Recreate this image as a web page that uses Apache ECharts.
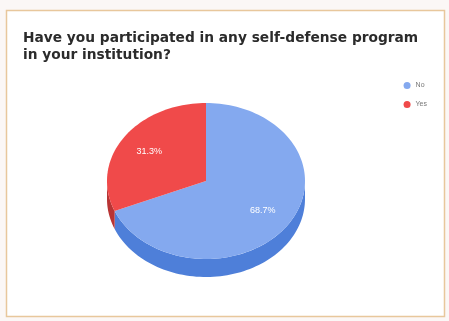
<!DOCTYPE html>
<html>
<head>
<meta charset="utf-8">
<script src="https://cdn.jsdelivr.net/npm/echarts@6/dist/echarts.min.js"></script>
<style>
  html, body { margin: 0; padding: 0; background: #fbf7f6; }
  #chart { width: 449px; height: 321px; }
</style>
</head>
<body>
<div id="chart"></div>
<script>
// Survey answers
const categories = ['No', 'Yes'];
const values = [68.7, 31.3];
const topColors = ['#84a9ef', '#f04a4a'];
const sideColors = ['#4e7fd9', '#b83434'];
const titleText = 'Have you participated in any self-defense program\nin your institution?';

const total = values.reduce((a, b) => a + b, 0);
const starts = [];
let acc = 0;
values.forEach(v => { starts.push(acc / total * 360); acc += v; });

// Tilted pie geometry (pixels)
const CX = 206, CY = 181, RX = 99, RY = 78, DEPTH = 18;

function pt(deg, dy) {
  const r = deg * Math.PI / 180;
  return [CX + RX * Math.sin(r), CY - RY * Math.cos(r) + (dy || 0)];
}
function arc(a0, a1, dy) {
  const pts = [];
  const n = Math.max(2, Math.ceil((a1 - a0) / 2));
  for (let i = 0; i <= n; i++) pts.push(pt(a0 + (a1 - a0) * i / n, dy));
  return pts;
}

function renderSlice(idx) {
  return function (params, api) {
    const v = api.value(0);
    const a0 = starts[idx];
    const a1 = a0 + v / total * 360;
    const children = [];
    // visible side wall (front half of the disc)
    const s0 = Math.max(a0, 90), s1 = Math.min(a1, 270);
    if (s1 > s0) {
      const upper = arc(s0, s1, 0);
      const lower = arc(s0, s1, DEPTH).reverse();
      children.push({ type: 'polygon', shape: { points: upper.concat(lower) }, style: { fill: sideColors[idx] } });
    }
    // top face
    children.push({ type: 'polygon', shape: { points: [[CX, CY]].concat(arc(a0, a1, 0)) }, style: { fill: topColors[idx] } });
    // percentage label
    const mid = (a0 + a1) / 2 * Math.PI / 180;
    const f = 0.69;
    children.push({
      type: 'text',
      x: CX + RX * f * Math.sin(mid),
      y: CY - RY * f * Math.cos(mid),
      style: {
        text: (v / total * 100).toFixed(1) + '%',
        fill: '#ffffff',
        font: '9px "Liberation Sans", Arial, sans-serif',
        align: 'center',
        verticalAlign: 'middle'
      }
    });
    return { type: 'group', children };
  };
}

const chart = echarts.init(document.getElementById('chart'), null, { renderer: 'canvas' });
chart.setOption({
  animation: false,
  backgroundColor: '#fbf7f6',
  graphic: [{
    type: 'rect',
    z: 0,
    shape: { x: 6.5, y: 10.5, width: 438, height: 306 },
    style: { fill: '#ffffff', stroke: '#e8c79c', lineWidth: 1.5 }
  }],
  title: {
    text: titleText,
    left: 18,
    top: 25,
    textStyle: {
      fontFamily: '"DejaVu Sans", sans-serif',
      fontSize: 13.75,
      fontWeight: 'bold',
      color: '#2b2b2b',
      lineHeight: 17
    }
  },
  legend: {
    data: categories,
    orient: 'vertical',
    right: 17,
    top: 77,
    icon: 'circle',
    itemWidth: 7,
    itemHeight: 7,
    itemGap: 12,
    textStyle: { fontSize: 7, color: '#777777', fontFamily: '"Liberation Sans", Arial, sans-serif' }
  },
  series: categories.map((name, i) => ({
    type: 'custom',
    name: name,
    coordinateSystem: 'none',
    itemStyle: { color: topColors[i] },
    data: [[values[i]]],
    renderItem: renderSlice(i)
  }))
});
</script>
</body>
</html>
